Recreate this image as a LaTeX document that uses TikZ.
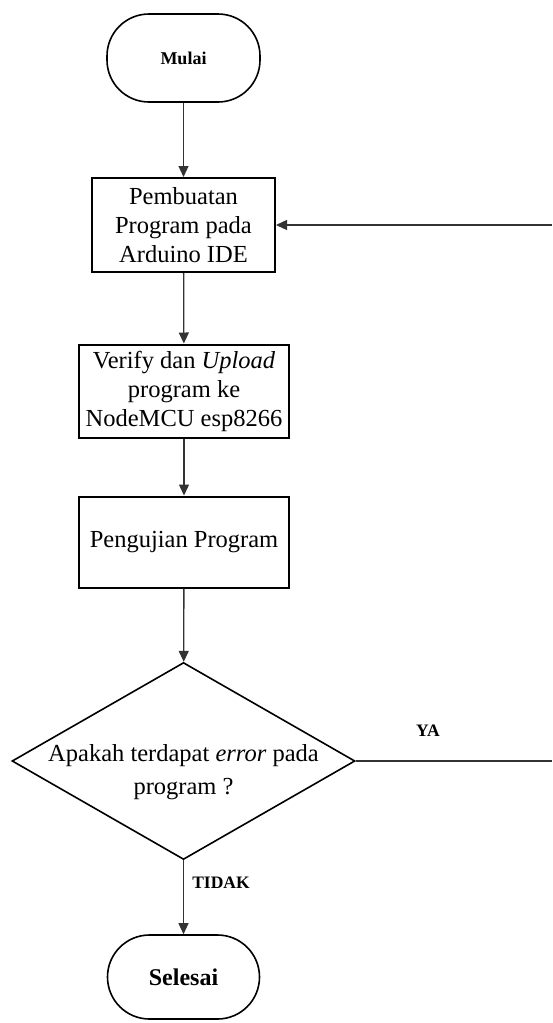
\documentclass[tikz,border=0pt]{standalone}
\usepackage{fontspec}
\setmainfont{Liberation Serif}
\usepackage{tikz}
\usetikzlibrary{shapes.geometric,arrows.meta}

\tikzset{
    terminal/.style={draw,line width=1.6pt,rounded corners=42pt,minimum width=153pt,minimum height=88pt,inner sep=0pt,font=\bfseries},
    proses/.style={draw,line width=2pt,align=center,inner sep=0pt,font=\fontsize{24.5}{29}\selectfont},
    keputusan/.style={draw,diamond,line width=1.6pt,minimum width=343pt,minimum height=197pt,inner sep=0pt},
    panah/.style={draw=black!80,line width=1.3pt,-{Triangle[length=11pt,width=10pt]}},
    garis/.style={draw=black!80,line width=1.3pt},
    ket/.style={font=\fontsize{17.5}{20}\selectfont\bfseries}
}

\begin{document}
\begin{tikzpicture}[x=1pt,y=-1pt]
    \useasboundingbox (0,0) rectangle (552,1023);

    % Nodes
    \node[terminal,font=\fontsize{18}{20}\selectfont\bfseries] (mulai) at (183.5,58) {Mulai};
    \node[proses,minimum width=183pt,minimum height=94pt] (buat) at (183.5,225) {Pembuatan\\Program pada\\Arduino IDE};
    \node[proses,minimum width=210pt,minimum height=93pt] (upload) at (184,391) {Verify dan \textit{Upload}\\program ke\\NodeMCU esp8266};
    \node[proses,minimum width=210pt,minimum height=91pt] (uji) at (184,542) {Pengujian Program};
    \node[keputusan] (cek) at (183.5,761) {};
    \node[align=center,font=\fontsize{24.5}{33}\selectfont] (cekteks) at (183.5,772) {Apakah terdapat \textit{error} pada\\program ?};
    \node[terminal,minimum width=152pt,minimum height=84pt,font=\fontsize{24}{26}\selectfont\bfseries] (selesai) at (183.5,977) {Selesai};

    % Loop ends at the edge
    \coordinate (ujungya) at (552,761);
    \coordinate (ujungbalik) at (552,225);

    % Connectors
    \draw[panah] (mulai) -- (buat);
    \draw[panah] (buat) -- (upload);
    \draw[panah] (upload) -- (uji);
    \draw[panah] (uji) -- (cek);
    \draw[panah] (cek) -- (selesai);
    \draw[garis] (cek.east) -- (ujungya);
    \draw[panah] (ujungbalik) -- (buat.east);

    % Labels
    \node[ket] (ya) at (428,731) {YA};
    \node[ket] (tidak) at (221,883) {TIDAK};
\end{tikzpicture}
\end{document}
